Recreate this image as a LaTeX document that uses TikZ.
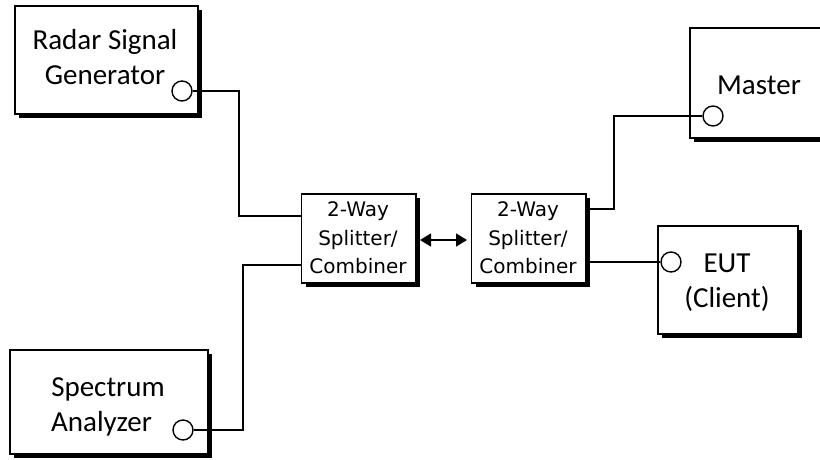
\documentclass[tikz,border=0pt]{standalone}
\usepackage{fontspec}
\setmainfont{Carlito}
\newfontfamily\splitfont{DejaVu Sans}
\usetikzlibrary{arrows.meta,shadows}
\begin{document}
\begin{tikzpicture}[x=1pt,y=-1pt,line width=1.6pt,
  box/.style={draw,fill=white,line width=1.6pt,inner sep=0pt,anchor=north west,
    drop shadow={shadow xshift=4.5pt,shadow yshift=-4.5pt,fill=black,opacity=1}},
  port/.style={circle,draw,fill=white,minimum size=20pt,inner sep=0pt,line width=1.4pt},
  lbl/.style={inner sep=0pt,align=center,font=\fontsize{29}{35}\selectfont},
  slbl/.style={inner sep=0pt,align=center,font=\splitfont\fontsize{20}{28.5}\selectfont},
  bothtips/.style={{Triangle[length=11pt,width=13pt]}-{Triangle[length=11pt,width=13pt]}}]
\useasboundingbox (0,0) rectangle (820,459);
\clip (0,0) rectangle (820,459);
% boxes
\node[box,minimum width=183pt,minimum height=108pt] (rg) at (14,5) {};
\node[box,minimum width=198pt,minimum height=104pt] (sa) at (9,349) {};
\node[box,minimum width=140pt,minimum height=110pt] (ms) at (689,27) {};
\node[box,minimum width=140pt,minimum height=108pt] (eut) at (657,225) {};
\node[box,minimum width=114.5pt,minimum height=89pt] (s1) at (300.5,193) {};
\node[box,minimum width=114.5pt,minimum height=89pt] (s2) at (470.5,193) {};
% texts
\node[lbl] (rgt) at (105,57.5) {Radar Signal\\Generator};
\node[lbl] (sat) at (108,407) {Spectrum\\Analyzer\hspace*{13pt}};
\node[lbl,anchor=base] (mst) at (759,94) {Master};
\node[lbl] (eutt) at (727,283) {EUT\\(Client)};
\node[slbl] (s1t) at (358,238) {2-Way\\Splitter/\\Combiner};
\node[slbl] (s2t) at (528,238) {2-Way\\Splitter/\\Combiner};
% ports
\node[port] (rgc) at (182,91) {};
\node[port] (sac) at (183,430) {};
\node[port] (mc) at (713,116) {};
\node[port] (ec) at (671,262) {};
% connection points
\coordinate (s1a) at (300.5,216);
\coordinate (s1b) at (300.5,265);
\coordinate (s2a) at (585,209);
\coordinate (s2b) at (585,262);
\coordinate (k1) at (239,216);
\coordinate (k2) at (243,265);
\coordinate (k3) at (614,209);
\coordinate (a1) at (420,240);
\coordinate (a2) at (467,240);
% connectors
\draw (rgc.east) -| (k1) -- (s1a);
\draw (sac.east) -| (k2) -- (s1b);
\draw (s2a) -- (k3) |- (mc.west);
\draw (s2b) -- (ec.west);
\draw[bothtips] (a1) -- (a2);
\end{tikzpicture}
\end{document}
